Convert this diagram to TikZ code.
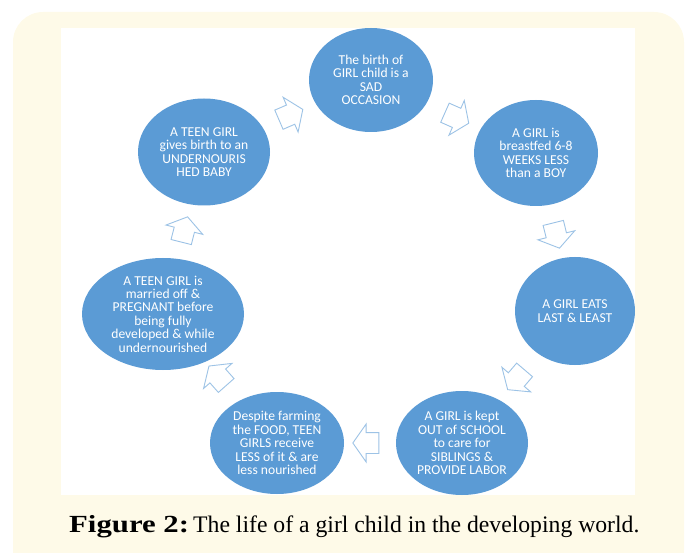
\documentclass[tikz,border=0pt]{standalone}
\usepackage{fontspec}
\setmainfont{Liberation Serif}
\newfontfamily\bubblefont{Carlito}
\usetikzlibrary{shapes.geometric,shapes.arrows}
\definecolor{cream}{HTML}{FEFAE8}
\definecolor{bubble}{HTML}{5B9BD5}
\definecolor{arrowline}{HTML}{9DC3E6}

\begin{document}
\begin{tikzpicture}[x=1pt,y=-1pt,
  stage/.style={ellipse, fill=bubble, draw=none, inner sep=0pt, text=white,
    align=center, font=\bubblefont\fontsize{13.6}{13.4}\selectfont},
  flow/.style={single arrow, draw=arrowline, fill=white, line width=0.9pt,
    minimum height=26pt, inner xsep=0pt, inner ysep=10pt,
    single arrow head extend=8.5pt, single arrow tip angle=110,
    sloped, allow upside down},
  captext/.style={anchor=base west, inner sep=0pt}]
\useasboundingbox (0,0) rectangle (685,553);
\clip (0,0) rectangle (685,553);

% frame and panel
\fill[cream, rounded corners=30pt] (13,12) rectangle (684,580);
\fill[white] (61,28) rectangle (635,495);

% stages of the cycle
\node[stage, minimum width=124pt, minimum height=104pt] (n1) at (371,80)
  {The birth of\\GIRL child is a\\SAD\\OCCASION};
\node[stage, minimum width=124pt, minimum height=106pt] (n2) at (536,153)
  {A GIRL is\\breastfed 6-8\\WEEKS LESS\\than a BOY};
\node[stage, minimum width=120pt, minimum height=108pt] (n3) at (575,311)
  {A GIRL EATS\\LAST \& LEAST};
\node[stage, minimum width=132pt, minimum height=104pt] (n4) at (462,443)
  {A GIRL is kept\\OUT of SCHOOL\\to care for\\SIBLINGS \&\\PROVIDE LABOR};
\node[stage, minimum width=134pt, minimum height=102pt] (n5) at (277,443)
  {Despite farming\\the FOOD, TEEN\\GIRLS receive\\LESS of it \& are\\less nourished};
\node[stage, minimum width=162pt, minimum height=112pt] (n6) at (163,314)
  {A TEEN GIRL is\\married off \&\\PREGNANT before\\being fully\\developed \& while\\undernourished};
\node[stage, minimum width=132pt, minimum height=107pt] (n7) at (204,152)
  {A TEEN GIRL\\gives birth to an\\UNDERNOURIS\\HED BABY};

% block arrows between stages
\path (n1.center) -- node[flow] (a12) {} (n2.center);
\path (n2.center) -- node[flow] (a23) {} (n3.center);
\path (n3.center) -- node[flow] (a34) {} (n4.center);
\path (n4.center) -- node[flow] (a45) {} (n5.center);
\path (n5.center) -- node[flow] (a56) {} (n6.center);
\path (n6.center) -- node[flow] (a67) {} (n7.center);
\path (n7.center) -- node[flow] (a71) {} (n1.center);

% caption
\node[captext, font=\fontsize{24.6}{28}\selectfont] (capa) at (69,532)
  {\scalebox{1.25}[1]{\textbf{Figure 2:}}};
\node[captext, font=\fontsize{23.7}{28}\selectfont] (capb) at (193,532)
  {The life of a girl child in the developing world.};
\end{tikzpicture}
\end{document}
